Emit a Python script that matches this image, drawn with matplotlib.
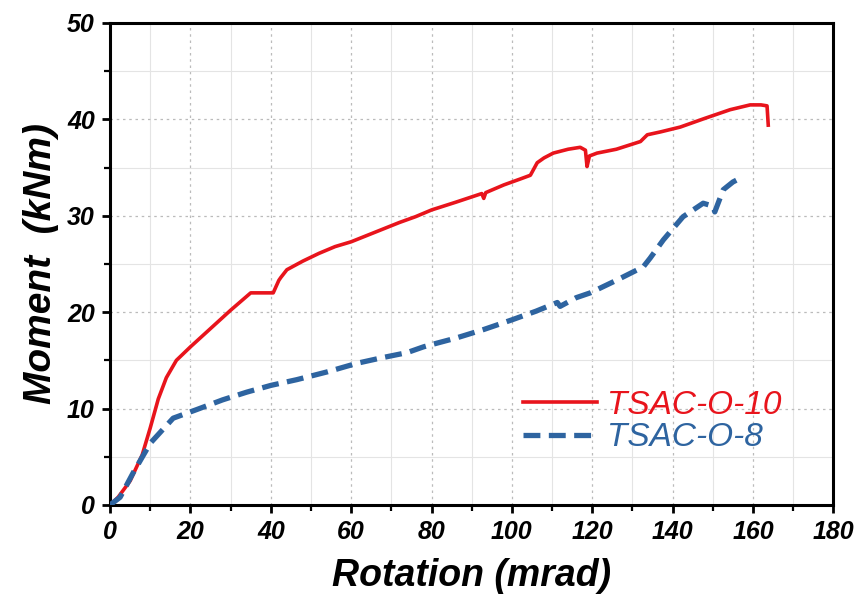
import numpy as np
import matplotlib.pyplot as plt
from matplotlib.ticker import MultipleLocator

# TSAC-O-10 (red, solid)
rot_10 = [0, 2, 5, 8, 10, 12, 14, 16.5, 18, 20, 25, 30, 35, 38, 40.6, 42, 42.5, 44, 48,
          52, 56, 60, 66, 72, 76, 80, 86, 92.5, 93, 93.5, 98, 102, 104.6, 106.3, 108, 110.3,
          114, 117, 118.3, 118.7, 119.3, 121.2, 126, 132, 133.7, 137, 141.9, 148, 154.3,
          159.3, 162, 163.5, 163.8]
mom_10 = [0, 0.8, 2.5, 5.2, 8.0, 11.0, 13.2, 15.0, 15.6, 16.4, 18.3, 20.2, 22.0, 22.0, 22.0,
          23.3, 23.6, 24.4, 25.3, 26.1, 26.8, 27.3, 28.3, 29.3, 29.9, 30.6, 31.4, 32.3, 31.8,
          32.4, 33.2, 33.8, 34.2, 35.5, 36.0, 36.5, 36.9, 37.1, 36.8, 35.1, 36.2, 36.5, 36.9,
          37.7, 38.4, 38.7, 39.2, 40.1, 41.0, 41.5, 41.5, 41.4, 39.4]

# TSAC-O-8 (blue, dashed)
rot_8 = [0, 2.5, 5.7, 10, 15.7, 21.6, 28, 34, 40, 46.5, 54, 61.5, 68, 73.9, 78, 79.7, 86,
         93, 100, 106, 111.3, 112, 116, 119.5, 121, 126, 132.7, 134.4, 137.7, 142.6, 147.6,
         150, 150.5, 152.6, 155, 157.3]
mom_8 = [0, 0.8, 3.3, 6.4, 9.0, 9.9, 10.9, 11.7, 12.4, 13.0, 13.8, 14.7, 15.3, 15.8, 16.4,
         16.6, 17.3, 18.2, 19.2, 20.1, 21.0, 20.6, 21.5, 22.0, 22.3, 23.3, 24.7, 25.6, 27.5,
         29.9, 31.3, 31.0, 30.4, 32.7, 33.5, 34.0]

series_names = ['TSAC-O-10', 'TSAC-O-8']
xticks = np.arange(0, 181, 20)
yticks = np.arange(0, 51, 10)

plt.rcParams['font.family'] = ['Liberation Sans', 'DejaVu Sans']

fig = plt.figure(figsize=(8.6, 6.04), dpi=100)
ax = fig.add_axes([0.128, 0.164, 0.841, 0.798])

ax.plot(rot_10, mom_10, color='#e8141c', lw=2.6, label=series_names[0], zorder=3)
ax.plot(rot_8, mom_8, color='#2e64a0', lw=3.8, ls=(0, (3.2, 1.6)), label=series_names[1], zorder=3)

ax.set_xlim(0, 180)
ax.set_ylim(0, 50)
ax.set_xticks(xticks)
ax.set_yticks(yticks)
ax.xaxis.set_minor_locator(MultipleLocator(10))
ax.yaxis.set_minor_locator(MultipleLocator(5))

ax.grid(which='major', color='#bbbbbb', ls=(0, (2, 3)), lw=0.9)
ax.grid(which='minor', color='#e4e4e4', ls='-', lw=0.8)
ax.set_axisbelow(True)

for s in ax.spines.values():
    s.set_linewidth(2.2)
ax.tick_params(which='major', direction='out', length=6, width=2, labelsize=18, pad=5)
ax.tick_params(which='minor', direction='out', length=4, width=1.6)
for lb in ax.get_xticklabels() + ax.get_yticklabels():
    lb.set_fontweight('bold')
    lb.set_fontstyle('italic')

ax.set_xlabel('Rotation (mrad)', fontsize=27, fontweight='bold', fontstyle='italic', labelpad=10)
ax.set_ylabel('Moment  (kNm)', fontsize=28, fontweight='bold', fontstyle='italic', labelpad=6)

leg = ax.legend(loc='lower left', bbox_to_anchor=(0.53, 0.045), frameon=False,
                labelcolor='linecolor', handlelength=2.2, handletextpad=0.3,
                labelspacing=0.05, prop={'size': 24, 'style': 'italic'})

fig.savefig('out.png', dpi=100)
